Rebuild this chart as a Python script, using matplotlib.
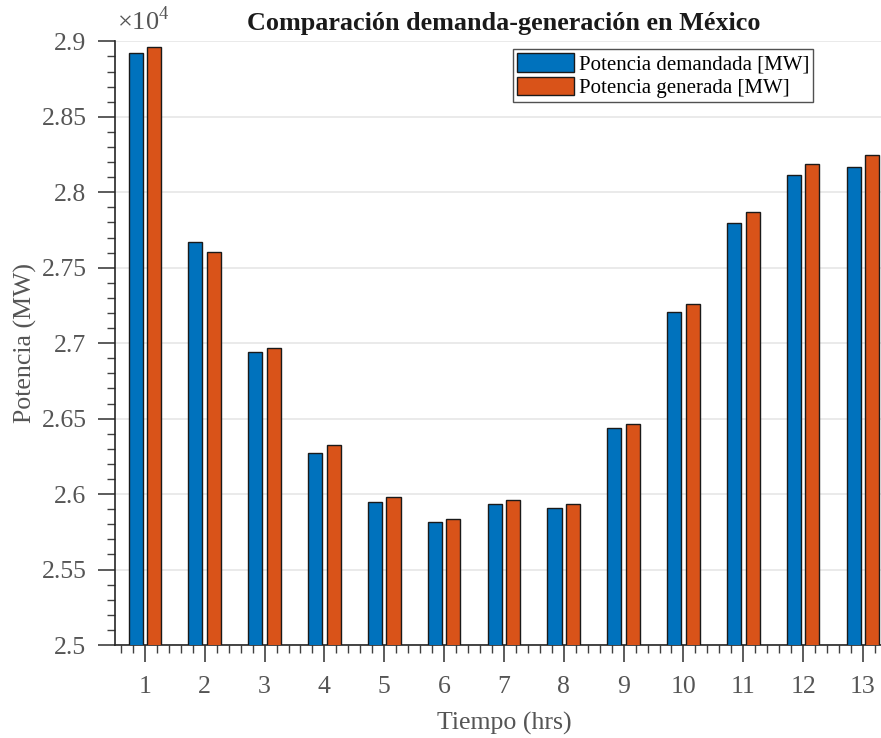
import matplotlib
matplotlib.use("Agg")
import matplotlib.pyplot as plt
import numpy as np
from matplotlib.ticker import FuncFormatter, MultipleLocator

hours = list(range(1, 14))
demanda = [28921, 27673, 26941, 26274, 25950, 25812, 25937, 25911, 26439, 27205, 27799, 28116, 28168]
generada = [28960, 27601, 26967, 26327, 25983, 25832, 25964, 25937, 26465, 27257, 27871, 28188, 28248]
labels = ["Potencia demandada [MW]", "Potencia generada [MW]"]

plt.rcParams['font.family'] = ['Liberation Serif', 'DejaVu Serif']
plt.rcParams['mathtext.fontset'] = 'custom'
plt.rcParams['mathtext.rm'] = 'Liberation Serif'

fig = plt.figure(figsize=(8.81, 7.38), dpi=100)
ax = fig.add_axes([0.1305, 0.126, 0.883, 0.818])

x = np.array(hours)
w = 0.235
off = 0.155
ax.bar(x - off, demanda, w, color='#0072BD', edgecolor='#1a1a1a', linewidth=1.0, label=labels[0], zorder=3)
ax.bar(x + off, generada, w, color='#D95319', edgecolor='#1a1a1a', linewidth=1.0, label=labels[1], zorder=3)

ax.set_xlim(0.5, 13.5)
ax.set_ylim(25000, 29000)
ax.set_xticks(hours)
ax.xaxis.set_minor_locator(MultipleLocator(0.2))
ax.yaxis.set_major_locator(MultipleLocator(500))
ax.yaxis.set_minor_locator(MultipleLocator(100))
ax.yaxis.set_major_formatter(FuncFormatter(lambda v, p: f'{v/1e4:g}'))

for s in ['top', 'right']:
    ax.spines[s].set_visible(False)
for s in ['left', 'bottom']:
    ax.spines[s].set_color('#262626')
    ax.spines[s].set_linewidth(1.2)

ax.tick_params(axis='both', which='major', direction='out', length=12.5, width=1.2,
               color='#404040', labelcolor='#555555', labelsize=18.5, pad=6)
ax.tick_params(axis='both', which='minor', direction='out', length=6, width=1.0, color='#404040')
ax.tick_params(axis='x', which='major', pad=10)
ax.tick_params(axis='y', which='major', pad=8)

ax.grid(axis='y', which='major', color='#e6e6e6', linewidth=1.2, zorder=0)
ax.set_axisbelow(True)

ax.set_title('Comparación demanda-generación en México', fontsize=18.8, fontweight='bold',
             color='#1a1a1a', pad=8, x=0.5)
ax.set_xlabel('Tiempo (hrs)', fontsize=18.6, color='#555555', labelpad=10)
ax.set_ylabel('Potencia (MW)', fontsize=18.6, color='#555555', labelpad=3)

fig.text(0.133, 0.953, r'$\times10^4$', fontsize=19, color='#555555', ha='left', va='bottom')

leg = ax.legend(loc='upper left', bbox_to_anchor=(513/881, 1 - 49/738), bbox_transform=fig.transFigure,
                fontsize=15, frameon=True, fancybox=False, edgecolor='#262626',
                handlelength=2.75, handleheight=1.0, handletextpad=0.2, borderpad=0.2,
                labelspacing=0.1, borderaxespad=0)
leg.get_frame().set_linewidth(1.0)

fig.savefig('out.png', dpi=100)
